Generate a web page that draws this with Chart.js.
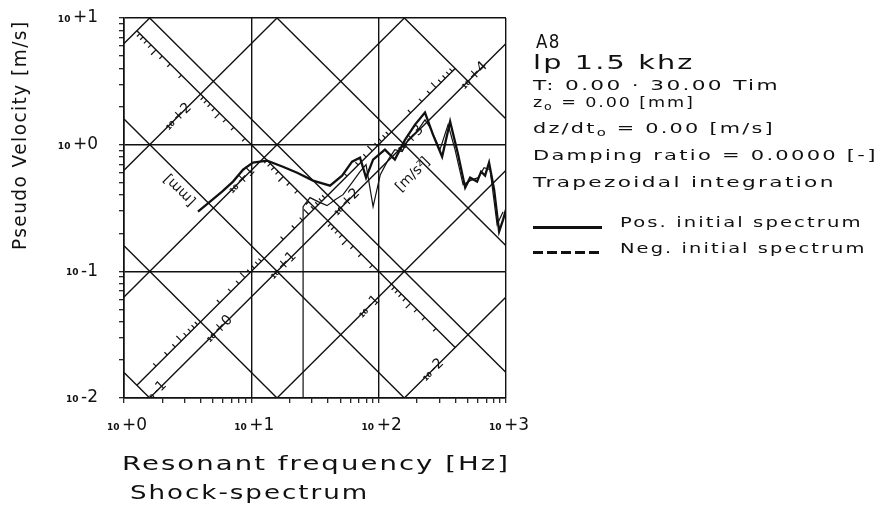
<!DOCTYPE html>
<html>
<head>
<meta charset="utf-8">
<title>Shock-spectrum</title>
<script src="https://cdn.jsdelivr.net/npm/chart.js@4.4.1/dist/chart.umd.min.js"></script>
<style>
  body { margin: 0; background: #fff; }
  #page { position: relative; width: 883px; height: 512px; overflow: hidden;
          font-family: "DejaVu Sans", sans-serif; color: #111; }
  #spectrum { position: absolute; left: 0; top: 0; }
  .txt { position: absolute; white-space: nowrap; line-height: 1; transform-origin: 0 0; }
  .txt sub { font-size: 10px; line-height: 0; vertical-align: -3px; }
  .key { position: absolute; left: 533px; width: 69px; height: 3px; }
</style>
</head>
<body>
<div id="page">
  <canvas id="spectrum" width="883" height="512"></canvas>

  <div class="txt" style="left:10px;top:250px;font-size:19px" data-w="228" data-rot="-90">Pseudo Velocity [m/s]</div>
  <div class="txt" style="left:122px;top:453px;font-size:20px" data-w="386">Resonant frequency [Hz]</div>
  <div class="txt" style="left:130px;top:482px;font-size:20px" data-w="237">Shock-spectrum</div>

  <div class="txt" style="left:536px;top:31px;font-size:20px" data-w="23">A8</div>
  <div class="txt" style="left:533px;top:52px;font-size:20px" data-w="160">lp 1.5 khz</div>
  <div class="txt" style="left:533px;top:78px;font-size:14px" data-w="244">T: 0.00 · 30.00 Tim</div>
  <div class="txt" style="left:533px;top:95px;font-size:14px" data-w="160">z<sub>o</sub> = 0.00 [mm]</div>
  <div class="txt" style="left:533px;top:121px;font-size:14px" data-w="240">dz/dt<sub>o</sub> = 0.00 [m/s]</div>
  <div class="txt" style="left:533px;top:148px;font-size:14px" data-w="342">Damping ratio = 0.0000 [-]</div>
  <div class="txt" style="left:533px;top:175px;font-size:14px" data-w="300">Trapezoidal integration</div>
  <div class="key" style="top:226px;background:#111"></div>
  <div class="txt" style="left:620px;top:215px;font-size:14px" data-w="240">Pos. initial spectrum</div>
  <div class="key" style="top:251px;background:repeating-linear-gradient(90deg,#111 0 10px,transparent 10px 14px)"></div>
  <div class="txt" style="left:620px;top:241px;font-size:14px" data-w="245">Neg. initial spectrum</div>
</div>
<script>
const INK = "#111";
const TWO_PI = 2 * Math.PI;

// positive initial spectrum
const posFreq = [3.81, 4.74, 5.89, 7.18, 8.61, 10.3, 13.3, 17.7, 22.9, 30.5, 41.5, 51.6, 61.8, 71.4, 79.6, 90.4, 112, 134, 161, 193, 231, 267, 315, 364, 421, 478, 523, 593, 637, 685, 736, 807, 883, 949, 1000];
const posVel = [0.296, 0.355, 0.426, 0.511, 0.635, 0.721, 0.748, 0.670, 0.601, 0.520, 0.475, 0.569, 0.734, 0.790, 0.549, 0.762, 0.913, 0.762, 1.09, 1.44, 1.79, 1.20, 0.804, 1.52, 0.834, 0.458, 0.549, 0.511, 0.612, 0.569, 0.721, 0.441, 0.206, 0.256, 0.307];

// negative initial spectrum
const negFreq = [25.5, 25.5, 28.9, 33.4, 39.3, 45.5, 52.5, 61.8, 71.4, 79.6, 90.4, 103, 119, 134, 153, 170, 204, 231, 254, 303, 351, 398, 460, 523, 604, 673, 750, 851, 949];
const negVel = [0.01, 0.324, 0.382, 0.355, 0.330, 0.368, 0.403, 0.501, 0.612, 0.695, 0.324, 0.580, 0.762, 0.913, 0.881, 1.09, 1.31, 1.57, 1.36, 0.913, 1.44, 0.913, 0.483, 0.520, 0.549, 0.658, 0.635, 0.234, 0.296];

// tripartite grid: displacement [mm] and acceleration [m/s2] lines
const dispLines = [1000, 100, 10, 1, 0.1, 0.01];
const accLines = [0.1, 1, 10, 100, 1000, 10000];
const dispLabelled = [100, 10, 0.1, 0.01];
const accLabelled = [0.1, 1, 10, 100, 1000, 10000];
const dispAxisProduct = 10;   // displacement scale drawn along V*f = 10
const accAxisRatio = 0.01;    // acceleration scale drawn along V/f = 0.01
const bandDisp = 1;           // acceleration labels sit on the 1 mm line

const xDecades = [1, 10, 100, 1000];
const yDecades = [0.01, 0.1, 1, 10];

const velForDisp = (f, dMm) => TWO_PI * f * dMm / 1000;
const velForAcc = (f, a) => a / (TWO_PI * f);
const isDecade = (v) => Math.abs(Math.log10(v) - Math.round(Math.log10(v))) < 1e-6;
const logTicks = (min, max) => {
  const out = [];
  for (let e = Math.round(Math.log10(min)); e < Math.round(Math.log10(max)); e++) {
    for (let m = 1; m < 10; m++) out.push(m * Math.pow(10, e));
  }
  out.push(max);
  return out;
};

const gridLine = (pts, w) => ({
  data: pts, showLine: true, borderColor: INK, borderWidth: w || 1.4,
  pointRadius: 0, tension: 0,
});

const datasets = [];
dispLines.forEach((d) => {
  datasets.push(gridLine([{ x: 1, y: velForDisp(1, d) }, { x: 1000, y: velForDisp(1000, d) }]));
});
accLines.forEach((a) => {
  datasets.push(gridLine([{ x: 1, y: velForAcc(1, a) }, { x: 1000, y: velForAcc(1000, a) }]));
});
// displacement scale line, between the largest and smallest displacement lines
const dispAxisPts = [Math.max(...dispLines), Math.min(...dispLines)].map((d) => {
  const f = Math.sqrt(dispAxisProduct / (TWO_PI * d / 1000));
  return { x: f, y: dispAxisProduct / f };
});
datasets.push(gridLine(dispAxisPts));
// acceleration scale line
const accAxisPts = [Math.min(...accLines), Math.max(...accLines)].map((a) => {
  const f = Math.sqrt(a / (TWO_PI * accAxisRatio));
  return { x: f, y: accAxisRatio * f };
});
datasets.push(gridLine(accAxisPts));

datasets.push({
  label: "Neg. initial spectrum",
  data: negFreq.map((f, i) => ({ x: f, y: negVel[i] })),
  showLine: true, borderColor: INK, borderWidth: 1.2, pointRadius: 0,
});
datasets.push({
  label: "Pos. initial spectrum",
  data: posFreq.map((f, i) => ({ x: f, y: posVel[i] })),
  showLine: true, borderColor: INK, borderWidth: 2.3, pointRadius: 0,
});

//draws "10" small with the exponent big, like the plotter does
function drawPow(ctx, x, y, exp, size, align, angle) {
  const base = "10";
  const pow = (exp < 0 ? "-" : "+") + Math.abs(exp);
  ctx.save();
  ctx.translate(x, y);
  ctx.rotate(angle);
  ctx.fillStyle = INK;
  ctx.textBaseline = "middle";
  ctx.textAlign = "left";
  const small = "bold " + Math.round(size * 0.5) + 'px "DejaVu Sans"';
  const big = size + 'px "DejaVu Sans"';
  ctx.font = small;
  const w1 = ctx.measureText(base).width;
  ctx.font = big;
  const w2 = ctx.measureText(pow).width;
  const gap = size * 0.15;
  const w = w1 + gap + w2;
  const x0 = align === "center" ? -w / 2 : align === "right" ? -w : 0;
  ctx.font = small;
  ctx.fillText(base, x0, size * 0.1);
  ctx.font = big;
  ctx.fillText(pow, x0 + w1 + gap, 0);
  ctx.restore();
}

function drawRotText(ctx, text, x, y, size, angle) {
  ctx.save();
  ctx.translate(x, y);
  ctx.rotate(angle);
  ctx.fillStyle = INK;
  ctx.font = size + 'px "DejaVu Sans"';
  ctx.textAlign = "center";
  ctx.textBaseline = "middle";
  ctx.fillText(text, 0, 0);
  ctx.restore();
}

const S = Math.SQRT1_2;
const scaleMarks = {
  id: "scaleMarks",
  afterDatasetsDraw(chart) {
    const { ctx, chartArea, scales: { x, y } } = chart;
    const px = (f, v) => [x.getPixelForValue(f), y.getPixelForValue(v)];
    ctx.save();
    ctx.beginPath();
    ctx.rect(chartArea.left, chartArea.top, chartArea.right - chartArea.left, chartArea.bottom - chartArea.top);
    ctx.clip();
    ctx.strokeStyle = INK;
    ctx.lineWidth = 1.2;
    // ticks on the displacement scale, pointing down-left
    logTicks(Math.min(...dispLines), Math.max(...dispLines)).filter((d) => !isDecade(d)).forEach((d) => {
      const f = Math.sqrt(dispAxisProduct / (TWO_PI * d / 1000));
      const [cx, cy] = px(f, dispAxisProduct / f);
      const len = Math.abs(d / Math.pow(10, Math.floor(Math.log10(d) + 1e-9)) - 5) < 1e-6 ? 7 : 4;
      ctx.beginPath();
      ctx.moveTo(cx, cy);
      ctx.lineTo(cx - len * S, cy + len * S);
      ctx.stroke();
    });
    // ticks on the acceleration scale, pointing up-left
    logTicks(Math.min(...accLines), Math.max(...accLines)).filter((a) => !isDecade(a)).forEach((a) => {
      const f = Math.sqrt(a / (TWO_PI * accAxisRatio));
      const [cx, cy] = px(f, accAxisRatio * f);
      const len = Math.abs(a / Math.pow(10, Math.floor(Math.log10(a) + 1e-9)) - 5) < 1e-6 ? 7 : 4;
      ctx.beginPath();
      ctx.moveTo(cx, cy);
      ctx.lineTo(cx - len * S, cy - len * S);
      ctx.stroke();
    });
    // displacement labels, on their own lines below the scale
    dispLabelled.forEach((d) => {
      const f = Math.sqrt(dispAxisProduct / (TWO_PI * d / 1000));
      const [cx, cy] = px(f, dispAxisProduct / f);
      drawPow(ctx, cx - 32 * S, cy + 32 * S, Math.round(Math.log10(d)), 14, "center", -Math.PI / 4);
    });
    // acceleration labels, where each line meets the 1 mm line
    accLabelled.forEach((a) => {
      const f = Math.sqrt(a / (TWO_PI * velForDisp(1, bandDisp)));
      const [cx, cy] = px(f, velForDisp(f, bandDisp));
      drawPow(ctx, cx + 8 * S, cy - 8 * S, Math.round(Math.log10(a)), 14, "center", -Math.PI / 4);
    });
    ctx.restore();

    // unit labels of the two scales
    const [mx, my] = px(2.75, 0.441);
    drawRotText(ctx, "[mm]", mx, my, 14, Math.PI * 1.25);
    const [ax, ay] = px(186, 0.579);
    drawRotText(ctx, "[m/s²]", ax, ay, 14, -Math.PI / 4);
  },
  afterDraw(chart) {
    const { ctx, scales: { x, y } } = chart;
    xDecades.forEach((v) => drawPow(ctx, x.getPixelForValue(v) + 3, 426, Math.round(Math.log10(v)), 17, "center", 0));
    yDecades.forEach((v) => drawPow(ctx, 98, y.getPixelForValue(v), Math.round(Math.log10(v)), 17, "right", 0));
  },
};

const axisOpts = (min, max) => ({
  type: "logarithmic",
  min, max,
  afterBuildTicks: (s) => { s.ticks = logTicks(min, max).map((v) => ({ value: v })); },
  ticks: { display: false, autoSkip: false },
  grid: {
    color: (c) => (c.tick && isDecade(c.tick.value) ? INK : "rgba(0,0,0,0)"),
    tickColor: INK,
    lineWidth: 1.4,
    tickWidth: 1.2,
    tickLength: 5,
  },
  border: { color: INK, width: 1.6 },
});

const xAxis = axisOpts(1, 1000);
xAxis.afterFit = (s) => { s.height = 114; };
const yAxis = axisOpts(0.01, 10);
yAxis.afterFit = (s) => { s.width = 124; };

new Chart(document.getElementById("spectrum"), {
  type: "scatter",
  data: { datasets },
  options: {
    responsive: false,
    animation: false,
    events: [],
    layout: { padding: { left: 0, top: 18, right: 377, bottom: 0 } },
    plugins: { legend: { display: false }, tooltip: { enabled: false } },
    scales: { x: xAxis, y: yAxis },
  },
  plugins: [scaleMarks],
});

//wide plotter lettering: a little spacing, then stretch to the measured width
document.querySelectorAll(".txt").forEach((el) => {
  const target = +el.dataset.w;
  el.style.letterSpacing = "1.5px";
  const natural = el.offsetWidth - 1.5;
  const k = target / natural;
  const rot = el.dataset.rot ? "rotate(" + el.dataset.rot + "deg) " : "";
  el.style.transform = rot + "scaleX(" + k.toFixed(3) + ")";
});
</script>
</body>
</html>
